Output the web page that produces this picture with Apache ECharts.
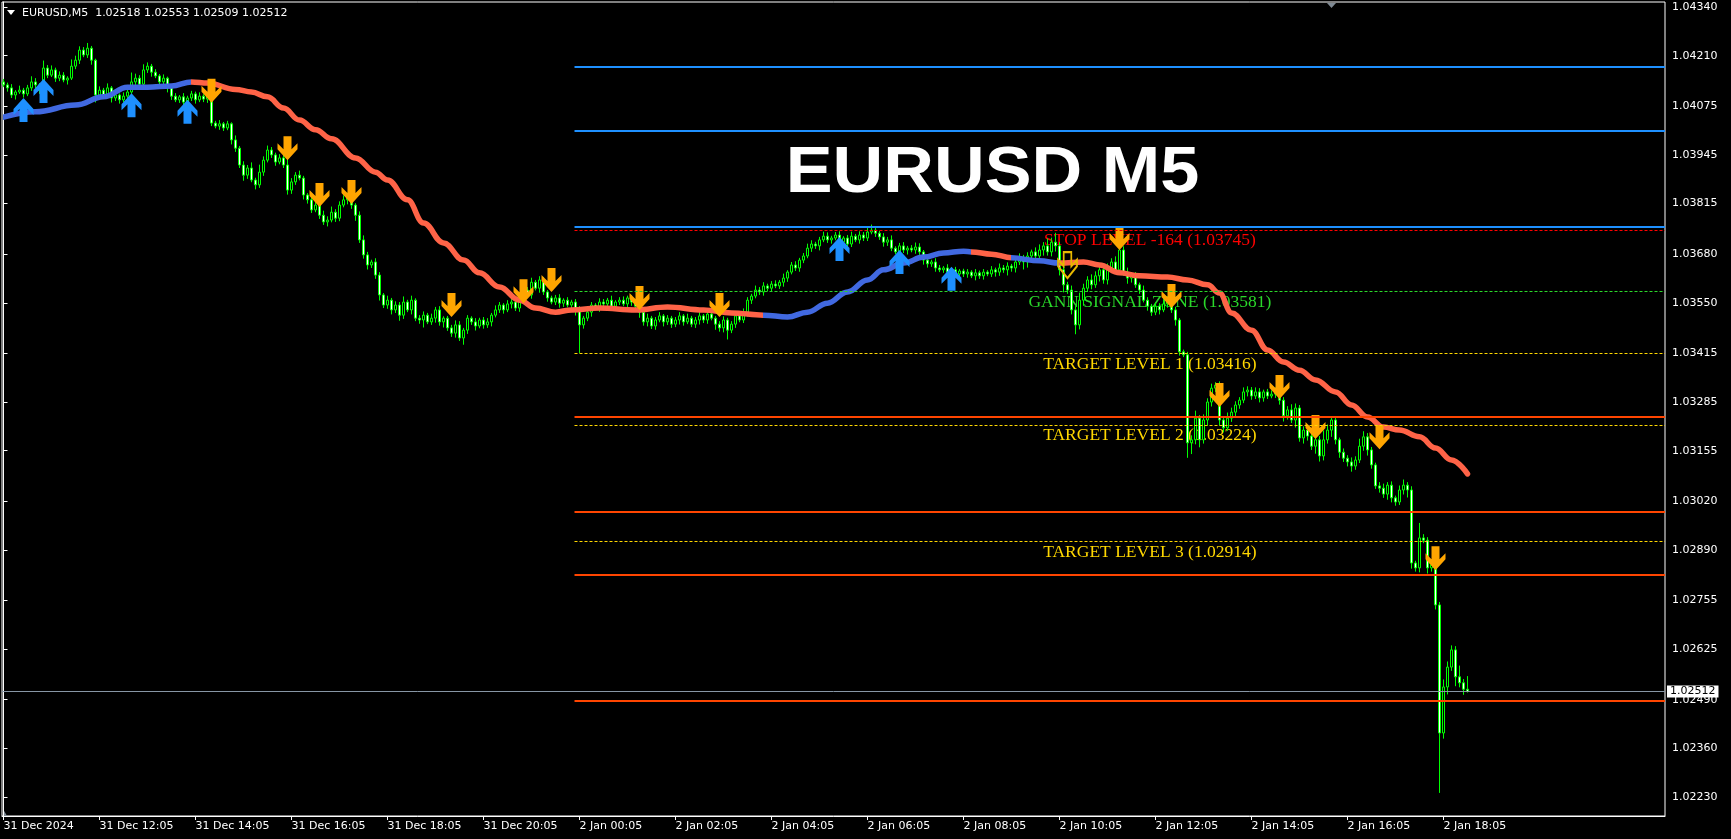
<!DOCTYPE html>
<html><head><meta charset="utf-8">
<script src="https://cdn.jsdelivr.net/npm/echarts@6/dist/echarts.min.js"></script>
<style>html,body{margin:0;padding:0;background:#000;}#c{width:1731px;height:839px;}</style>
</head><body><div id="c"></div>
<script>
// ---------------- DATA ----------------
const symbolName = 'EURUSD';
const timeframe = 'M5';
const xTickBars = [0,24,48,72,96,120,144,168,192,216,240,264,288,312,336,360];
const xTickLabels = ['31 Dec 2024','31 Dec 12:05','31 Dec 14:05','31 Dec 16:05','31 Dec 18:05','31 Dec 20:05',
  '2 Jan 00:05','2 Jan 02:05','2 Jan 04:05','2 Jan 06:05','2 Jan 08:05','2 Jan 10:05','2 Jan 12:05',
  '2 Jan 14:05','2 Jan 16:05','2 Jan 18:05'];
const yTickValues = [1.04340,1.04210,1.04075,1.03945,1.03815,1.03680,1.03550,1.03415,1.03285,
  1.03155,1.03020,1.02890,1.02755,1.02625,1.02490,1.02360,1.02230];

const firstOpen = 1.04140;
const closes = [
 1.04132,1.04124,1.04105,1.04113,1.04118,1.04108,1.04124,1.04140,1.04132,1.04118,1.04177,1.04158,1.04172,1.04150,1.04158,1.04145,1.04150,1.04182,1.04198,1.04225,1.04212,1.04230,1.04198,1.04105,
 1.04118,1.04105,1.04124,1.04097,1.04105,1.04092,1.04102,1.04113,1.04140,1.04150,1.04134,1.04172,1.04182,1.04166,1.04156,1.04140,1.04150,1.04124,1.04102,1.04092,1.04100,1.04086,1.04097,1.04108,
 1.04092,1.04102,1.04094,1.04105,1.04030,1.04022,1.04028,1.04017,1.04028,1.03985,1.03963,1.03918,1.03891,1.03910,1.03878,1.03865,1.03899,1.03931,1.03958,1.03945,1.03926,1.03937,1.03918,1.03851,
 1.03873,1.03891,1.03883,1.03838,1.03825,1.03798,1.03811,1.03784,1.03766,1.03771,1.03792,1.03776,1.03811,1.03825,1.03838,1.03811,1.03784,1.03718,1.03678,1.03651,1.03659,1.03624,1.03571,1.03544,
 1.03557,1.03531,1.03544,1.03517,1.03552,1.03531,1.03557,1.03509,1.03504,1.03517,1.03499,1.03509,1.03531,1.03499,1.03509,1.03483,1.03469,1.03491,1.03456,1.03477,1.03509,1.03499,1.03488,1.03504,
 1.03491,1.03499,1.03517,1.03531,1.03544,1.03531,1.03547,1.03552,1.03536,1.03557,1.03584,1.03571,1.03605,1.03589,1.03611,1.03579,1.03563,1.03552,1.03563,1.03549,1.03557,1.03544,1.03552,1.03531,
 1.03491,1.03509,1.03525,1.03544,1.03536,1.03552,1.03547,1.03557,1.03541,1.03552,1.03557,1.03547,1.03563,1.03552,1.03541,1.03525,1.03499,1.03509,1.03488,1.03504,1.03515,1.03499,1.03509,1.03493,
 1.03504,1.03515,1.03499,1.03509,1.03493,1.03504,1.03515,1.03504,1.03520,1.03509,1.03493,1.03483,1.03504,1.03477,1.03493,1.03515,1.03504,1.03525,1.03557,1.03568,1.03584,1.03579,1.03595,1.03589,
 1.03600,1.03595,1.03605,1.03616,1.03632,1.03651,1.03643,1.03664,1.03675,1.03696,1.03707,1.03702,1.03718,1.03728,1.03718,1.03723,1.03731,1.03712,1.03723,1.03707,1.03728,1.03718,1.03731,1.03723,
 1.03739,1.03744,1.03736,1.03726,1.03712,1.03718,1.03696,1.03686,1.03702,1.03691,1.03696,1.03691,1.03699,1.03686,1.03664,1.03654,1.03659,1.03643,1.03638,1.03643,1.03632,1.03638,1.03627,1.03635,
 1.03627,1.03632,1.03622,1.03630,1.03622,1.03632,1.03627,1.03638,1.03632,1.03643,1.03638,1.03648,1.03643,1.03659,1.03670,1.03659,1.03675,1.03686,1.03675,1.03691,1.03702,1.03686,1.03712,1.03702,
 1.03638,1.03598,1.03584,1.03531,1.03491,1.03557,1.03589,1.03611,1.03598,1.03622,1.03638,1.03611,1.03643,1.03659,1.03638,1.03691,1.03632,1.03616,1.03622,1.03598,1.03584,1.03557,1.03541,1.03525,
 1.03541,1.03531,1.03547,1.03552,1.03531,1.03504,1.03419,1.03411,1.03176,1.03184,1.03242,1.03184,1.03237,1.03285,1.03322,1.03330,1.03237,1.03216,1.03242,1.03258,1.03277,1.03290,1.03312,1.03317,
 1.03301,1.03312,1.03296,1.03312,1.03301,1.03306,1.03312,1.03290,1.03248,1.03264,1.03237,1.03269,1.03189,1.03210,1.03194,1.03167,1.03184,1.03141,1.03184,1.03210,1.03237,1.03184,1.03151,1.03135,
 1.03125,1.03114,1.03130,1.03167,1.03192,1.03157,1.03117,1.03061,1.03055,1.03039,1.03063,1.03029,1.03018,1.03050,1.03063,1.03050,1.02855,1.02842,1.02922,1.02916,1.02842,1.02850,1.02743,1.02401,
 1.02524,1.02577,1.02623,1.02551,1.02535,1.02518,1.02512
];
// wick lengths in points (0.00001)
const upperWicks = [
 8,6,10,5,12,6,8,15,10,5,20,8,12,6,10,8,5,18,12,10,8,14,6,4,
 10,6,12,5,8,4,10,6,25,12,8,15,10,6,8,5,10,4,6,8,5,10,6,8,
 6,10,5,8,3,6,10,5,8,4,12,6,10,8,15,6,20,10,12,8,6,10,8,30,
 10,8,12,6,5,10,8,6,12,10,15,8,10,12,6,8,5,10,12,8,6,10,8,5,
 12,6,10,8,15,6,12,5,8,10,6,12,8,10,5,6,8,12,10,6,8,5,10,6,
 8,10,6,12,8,5,10,8,6,10,15,8,12,6,10,8,5,6,8,10,5,8,6,8,
 10,6,12,8,5,10,8,6,12,5,8,10,6,8,5,10,8,12,6,8,10,5,8,6,
 8,10,5,12,6,8,10,5,8,12,6,8,10,6,8,12,5,10,8,6,12,8,10,6,
 8,10,6,12,5,8,10,6,8,12,10,6,8,12,10,6,8,10,5,8,12,6,10,8,
 12,15,8,6,10,8,12,5,8,10,6,8,12,10,5,8,6,10,8,5,10,6,8,5,
 6,8,5,10,6,8,5,10,6,12,8,10,6,15,12,8,10,6,12,15,10,20,12,25,
 10,15,8,12,10,20,12,10,15,12,10,18,12,10,15,30,10,12,8,10,6,12,8,6,
 10,8,12,6,10,8,5,6,8,12,20,8,15,10,12,8,10,6,15,12,10,8,12,10,
 8,12,10,6,8,10,12,6,8,10,15,12,8,10,6,12,8,10,25,15,10,8,6,10,
 8,12,10,20,15,10,8,6,10,12,8,10,6,12,15,8,10,6,40,10,8,15,10,8,
 20,15,12,10,30,10,35
];
const lowerWicks = [
 6,10,8,12,5,10,6,8,12,10,6,8,5,10,8,6,12,5,8,10,6,8,12,20,
 8,10,6,12,8,10,6,15,5,8,10,6,8,12,6,10,8,12,10,6,8,10,12,8,
 10,6,8,10,8,6,10,8,6,12,10,8,15,10,6,12,8,10,6,8,10,6,8,12,
 10,8,6,12,10,8,6,10,8,12,6,10,8,6,12,10,15,8,10,12,8,10,15,8,
 10,12,8,15,10,6,12,8,10,20,6,8,12,10,15,8,10,12,8,18,10,8,12,6,
 10,8,12,6,8,10,6,12,8,10,6,8,10,6,12,8,10,6,8,12,10,6,8,15,
 75,10,8,12,6,10,8,12,6,10,8,6,12,10,8,15,10,12,8,10,6,12,8,10,
 8,12,10,6,8,10,12,8,10,6,15,10,12,25,8,10,6,8,12,10,6,8,10,8,
 10,6,8,12,10,6,8,10,8,6,10,8,12,6,8,10,6,8,12,10,8,6,10,8,
 8,6,10,8,12,10,8,6,10,8,12,6,10,8,12,10,8,10,6,8,10,12,8,10,
 8,10,6,12,8,10,6,8,12,10,8,15,10,12,8,20,15,10,12,8,15,10,12,15,
 15,20,10,12,25,12,15,10,12,8,15,10,12,8,10,12,10,15,12,8,10,6,12,10,
 8,12,6,10,8,15,10,6,40,30,12,20,10,15,12,10,15,12,8,10,12,10,8,12,
 10,8,12,10,8,6,10,12,15,10,8,20,10,15,12,10,20,15,12,10,18,12,15,10,
 12,15,10,8,12,15,10,8,12,10,15,12,10,8,12,20,15,10,12,8,15,10,12,160,
 15,20,10,25,12,15,3
];

// moving average read at bar indices
const maPoints = [[0,1.04046],[8,1.04060],[18,1.04078],[25,1.04100],[31,1.04126],[36,1.04126],[42,1.04129],
 [47,1.04140],[51,1.04137],[58,1.04120],[62,1.04113],[66,1.04100],[70,1.04070],[74,1.04038],[78,1.04012],
 [82,1.03988],[88,1.03937],[93,1.03899],[96,1.03878],[101,1.03825],[105,1.03763],[110,1.03710],[115,1.03664],
 [119,1.03630],[124,1.03592],[129,1.03557],[133,1.03536],[138,1.03525],[142,1.03531],[149,1.03536],[158,1.03531],
 [166,1.03539],[175,1.03531],[182,1.03523],[190,1.03517],[196,1.03512],[201,1.03525],[206,1.03549],[211,1.03579],
 [216,1.03611],[220,1.03638],[225,1.03656],[230,1.03672],[235,1.03683],[240,1.03688],[242,1.03686],[247,1.03680],
 [252,1.03670],[259,1.03662],[264,1.03656],[270,1.03659],[274,1.03651],[279,1.03630],[284,1.03622],[291,1.03619],
 [296,1.03611],[301,1.03598],[304,1.03576],[307,1.03523],[312,1.03477],[316,1.03424],[320,1.03392],[324,1.03370],
 [328,1.03344],[333,1.03312],[337,1.03277],[341,1.03245],[345,1.03218],[349,1.03210],[354,1.03192],[358,1.03162],
 [362,1.03130],[366,1.03093]];
const maTrendStarts = [0,47,190,242,252,264];
const maTrendDirs = ['up','down','up','down','up','down'];

// signal arrows: [bar index, tip price]
const upArrows = [[5,1.04097],[10,1.04148],[32,1.04110],[46,1.04092],[209,1.03726],[224,1.03691],[237,1.03646]];
const downArrows = [[52,1.04084],[71,1.03931],[79,1.03806],[87,1.03814],[112,1.03512],[130,1.03549],[137,1.03579],
 [159,1.03531],[179,1.03512],[279,1.03691],[292,1.03536],[304,1.03272],[319,1.03293],[328,1.03186],[344,1.03159],[358,1.02836]];
const hollowDownArrows = [[266,1.03616]];

// horizontal levels
const levelStartBar = 142.75;
const blueLevelPrices = [1.04181, 1.04010, 1.03753];
const orangeLevelPrices = [1.03246, 1.02992, 1.02823, 1.02488];
const signalLevelNames = ['STOP LEVEL -164','GANN SIGNAL ZONE','TARGET LEVEL 1','TARGET LEVEL 2','TARGET LEVEL 3'];
const signalLevelPrices = [1.03745, 1.03581, 1.03416, 1.03224, 1.02914];
const signalLevelKinds = ['stop','gann','target','target','target'];
const levelTextBar = 286.6;

// ---------------- BUILD ----------------
const POINT = 0.00001;
const XMIN = -0.375, XMAX = 415.375;
const YMIN = 1.021793, YMAX = 1.043534;
const candles = closes.map((c, i) => {
  const o = i === 0 ? firstOpen : closes[i - 1];
  const hi = Math.max(o, c) + upperWicks[i] * POINT;
  const lo = Math.min(o, c) - lowerWicks[i] * POINT;
  return [i, o, c, lo, hi];
});
const last = candles[candles.length - 1];
const f5 = v => v.toFixed(5);
const header = symbolName + ',' + timeframe + '  ' + f5(last[1]) + ' ' + f5(last[4]) + ' ' + f5(last[3]) + ' ' + f5(last[2]);

const KIND_COLOR = {stop:'#ff0000', gann:'#2ad82a', target:'#ffd700'};
const MA_UP = '#4169e1', MA_DOWN = '#ff6347';
const pieces = maTrendStarts.map((s, k) => ({
  gte: s, lt: k + 1 < maTrendStarts.length ? maTrendStarts[k + 1] : 100000,
  color: maTrendDirs[k] === 'up' ? MA_UP : MA_DOWN
}));

const levelLines = [];
blueLevelPrices.forEach(p => levelLines.push([{coord:[levelStartBar,p], lineStyle:{color:'#1e90ff',width:2,type:'solid'}},{coord:[XMAX,p]}]));
orangeLevelPrices.forEach(p => levelLines.push([{coord:[levelStartBar,p], lineStyle:{color:'#ff4500',width:2,type:'solid'}},{coord:[XMAX,p]}]));
signalLevelPrices.forEach((p,k) => levelLines.push([{coord:[levelStartBar,p], lineStyle:{color:KIND_COLOR[signalLevelKinds[k]],width:1,type:[3,2]}},{coord:[XMAX,p]}]));

const levelTexts = signalLevelPrices.map((p,k) => ({
  value:[levelTextBar, p],
  name: signalLevelNames[k] + ' (' + f5(p) + ')',
  label:{color:KIND_COLOR[signalLevelKinds[k]]}
}));

const UP_PATH = 'path://M10 0 L20 11 L20 17 L14 11 L14 24 L6 24 L6 11 L0 17 L0 11 Z';
const DOWN_PATH = 'path://M10 24 L20 13 L20 7 L14 13 L14 0 L6 0 L6 13 L0 7 L0 13 Z';

const chart = echarts.init(document.getElementById('c'), null, {renderer:'canvas', width:1731, height:839});
chart.setOption({
  backgroundColor:'#000',
  animation:false,
  grid:{left:2,right:66,top:2,bottom:23,show:true,borderColor:'#ffffff',borderWidth:1,backgroundColor:'transparent'},
  xAxis:{type:'value',min:XMIN,max:XMAX,splitLine:{show:false},
    axisLine:{show:true,lineStyle:{color:'#ffffff'}},
    axisTick:{show:true,length:4,customValues:xTickBars,lineStyle:{color:'#ffffff'}},
    axisLabel:{customValues:xTickBars,formatter:v=>xTickLabels[xTickBars.indexOf(Math.round(v))],
      align:'left',color:'#ffffff',fontFamily:'DejaVu Sans',fontSize:11,margin:5}},
  yAxis:{type:'value',position:'right',min:YMIN,max:YMAX,splitLine:{show:false},
    axisLine:{show:true,lineStyle:{color:'#ffffff'}},
    axisTick:{show:true,length:4,customValues:yTickValues,lineStyle:{color:'#ffffff'}},
    axisLabel:{customValues:yTickValues,formatter:v=>v.toFixed(5),color:'#ffffff',fontFamily:'DejaVu Sans',fontSize:11,margin:7}},
  visualMap:{show:false,type:'piecewise',seriesIndex:3,dimension:0,pieces:pieces},
  graphic:[
    {type:'polygon',shape:{points:[[7,10],[15,10],[11,15]]},style:{fill:'#ffffff'}},
    {type:'text',x:22,y:13,style:{text:header,fill:'#ffffff',font:'11px "DejaVu Sans"',verticalAlign:'middle',textVerticalAlign:'middle'}},
    {type:'polygon',shape:{points:[[1327,3],[1336,3],[1331.5,8]]},style:{fill:'#7f8a94'}},
    {type:'polygon',shape:{points:[[3,809],[3,816],[7,816]]},style:{fill:'#7f8a94'}},
    {type:'text',x:992.5,y:174,scaleX:1.08,style:{text:symbolName+' '+timeframe,fill:'#ffffff',
      font:'bold 65px "Liberation Sans"',align:'center',textAlign:'center',verticalAlign:'middle',textVerticalAlign:'middle'}}
  ],
  series:[
    {type:'line',data:[],z:1,silent:true,
      markLine:{silent:true,symbol:['none','none'],label:{show:false},animation:false,data:levelLines.concat([
        [{coord:[XMIN,last[2]],lineStyle:{color:'#8796a5',width:1,type:'solid'},
          label:{show:true,position:'end',distance:2,formatter:()=>f5(last[2]),backgroundColor:'#ffffff',color:'#000000',
            padding:[1,3,0,3],fontFamily:'DejaVu Sans',fontSize:11}},
         {coord:[XMAX,last[2]]}]
      ])}},
    {type:'scatter',z:1,silent:true,symbolSize:1,itemStyle:{color:'transparent',opacity:1},data:levelTexts,
      label:{show:true,position:'inside',offset:[0,11],formatter:p=>p.name,fontFamily:'Liberation Serif',fontSize:17.5}},
    {type:'candlestick',z:2,silent:true,barWidth:2,data:candles,encode:{x:0,y:[1,2,3,4]},
      itemStyle:{color:'#000000',color0:'#ffffff',borderColor:'#00ff00',borderColor0:'#00ff00',borderWidth:1}},
    {type:'line',z:3,silent:true,data:maPoints,showSymbol:false,smooth:0.4,smoothMonotone:'x',
      lineStyle:{width:5.5,cap:'round',join:'round'}},
    {type:'scatter',z:4,silent:true,data:upArrows,symbol:UP_PATH,symbolSize:[20,24],symbolOffset:[0,12],
      itemStyle:{color:'#1e90ff',opacity:1}},
    {type:'scatter',z:4,silent:true,data:downArrows,symbol:DOWN_PATH,symbolSize:[20,24],symbolOffset:[0,-12],
      itemStyle:{color:'#ffa500',opacity:1}},
    {type:'scatter',z:4,silent:true,data:hollowDownArrows,symbol:DOWN_PATH,symbolSize:[19,26],symbolOffset:[0,-13],
      itemStyle:{color:'rgba(0,0,0,0)',borderColor:'#e8b800',borderWidth:2,opacity:1}}
  ]
});
</script>
</body></html>
